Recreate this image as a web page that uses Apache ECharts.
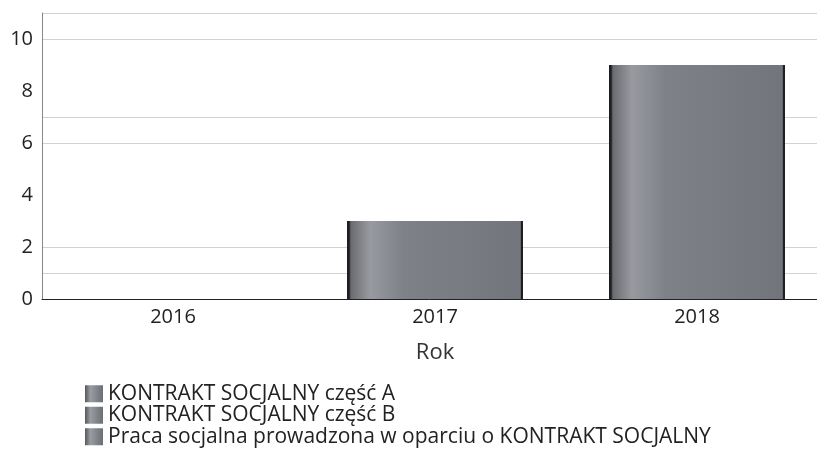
<!DOCTYPE html>
<html>
<head>
<meta charset="utf-8">
<script src="https://cdn.jsdelivr.net/npm/echarts@6/dist/echarts.min.js"></script>
<style>html,body{margin:0;padding:0;background:#fff}#c{width:817px;height:456px}</style>
</head>
<body>
<div id="c"></div>
<script>
var categories = ['2016', '2017', '2018'];
var seriesNames = ['KONTRAKT SOCJALNY część A', 'KONTRAKT SOCJALNY część B', 'Praca socjalna prowadzona w oparciu o KONTRAKT SOCJALNY'];
var valuesA = [0, 0, 0];
var valuesB = [0, 0, 0];
var valuesPraca = [0, 3, 9];
var gridValues = [1, 2, 6, 7, 10, 11];
var yTickLabels = [0, 2, 4, 6, 8, 10];

var barGrad = new echarts.graphic.LinearGradient(0, 0, 1, 0, [
  {offset: 0, color: '#1e1f22'},
  {offset: 0.012, color: '#1e1f22'},
  {offset: 0.022, color: '#6a6c72'},
  {offset: 0.13, color: '#989aa0'},
  {offset: 0.32, color: '#7e8188'},
  {offset: 0.985, color: '#72757c'},
  {offset: 0.99, color: '#1e1f22'},
  {offset: 1, color: '#1e1f22'}
]);
var legendGrad = new echarts.graphic.LinearGradient(0, 0, 1, 0, [
  {offset: 0, color: '#55575c'},
  {offset: 0.3, color: '#9a9ca3'},
  {offset: 1, color: '#6b6e75'}
]);

var datasets = [valuesA, valuesB, valuesPraca];
var series = seriesNames.map(function (n, i) {
  return {
    name: n,
    type: 'bar',
    stack: 'total',
    barWidth: 176,
    data: datasets[i],
    z: 5,
    itemStyle: {color: barGrad},
    emphasis: {disabled: true}
  };
});
series.push({
  type: 'line',
  data: [],
  z: 0,
  silent: true,
  markLine: {
    silent: true,
    symbol: 'none',
    z: 0,
    label: {show: false},
    lineStyle: {color: '#d2d2d2', width: 1, type: 'solid'},
    data: gridValues.map(function (v) { return {yAxis: v}; })
  }
});

var chart = echarts.init(document.getElementById('c'));
chart.setOption({
  animation: false,
  backgroundColor: '#fff',
  textStyle: {fontFamily: 'Open Sans'},
  grid: {left: 42, width: 786, top: 13, bottom: 157, containLabel: false, outerBoundsMode: 'none'},
  legend: {
    orient: 'vertical',
    left: 85,
    top: 383,
    bottom: 0,
    padding: 0,
    itemGap: 0,
    itemWidth: 18,
    itemHeight: 17,
    icon: 'rect',
    selectedMode: false,
    textStyle: {fontSize: 21, lineHeight: 21.5, color: '#222', fontFamily: 'Open Sans'},
    data: seriesNames.map(function (n) { return {name: n, itemStyle: {color: legendGrad}}; })
  },
  xAxis: {
    type: 'category',
    data: categories,
    name: 'Rok',
    nameLocation: 'middle',
    nameGap: 43,
    nameTextStyle: {fontSize: 22, color: '#333', fontFamily: 'Open Sans'},
    axisLine: {show: true, lineStyle: {color: '#222', width: 1}},
    axisTick: {show: false},
    axisLabel: {fontSize: 20, color: '#222', margin: 8, fontFamily: 'Open Sans'},
    splitLine: {show: false}
  },
  yAxis: {
    type: 'value',
    min: 0,
    max: 11,
    interval: 1,
    axisLine: {show: true, lineStyle: {color: '#888', width: 1}},
    axisTick: {show: false},
    axisLabel: {
      fontSize: 20, color: '#222', margin: 9, fontFamily: 'Open Sans',
      formatter: function (v) { return yTickLabels.indexOf(v) >= 0 ? String(v) : ''; }
    },
    splitLine: {show: false}
  },
  series: series
});
</script>
</body>
</html>
